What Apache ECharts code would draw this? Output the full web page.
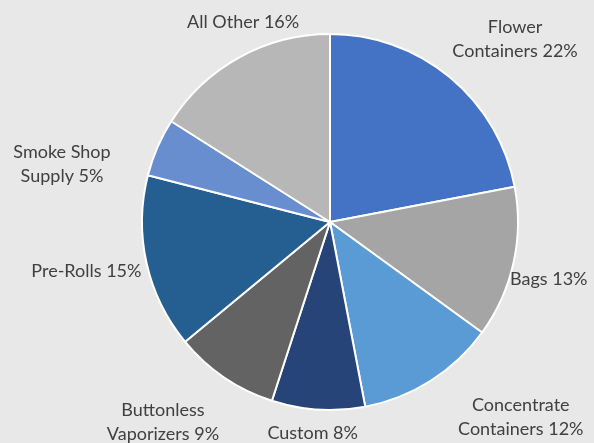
<!DOCTYPE html>
<html><head><meta charset="utf-8">
<script src="https://cdn.jsdelivr.net/npm/echarts@6/dist/echarts.min.js"></script>
<style>html,body{margin:0;padding:0;background:#e8e8e8;}#c{width:594px;height:443px;}</style>
</head><body><div id="c"></div>
<script>
const categories = ['Flower\nContainers', 'Bags', 'Concentrate\nContainers', 'Custom', 'Buttonless\nVaporizers', 'Pre-Rolls', 'Smoke Shop\nSupply', 'All Other'];
const values = [22, 13, 12, 8, 9, 15, 5, 16];
const colors = ['#4472C4', '#A5A5A5', '#5B9BD5', '#264478', '#636363', '#255E91', '#698ED0', '#B7B7B7'];
// per-slice label offsets (style)
const lineLen = [49, 72, 43, 24, 54, 37, -42, 40];
const lineLen2 = [29, -40, 62, -1, 26, 19, 129, -28];

const chart = echarts.init(document.getElementById('c'), null, {renderer: 'canvas'});
chart.setOption({
  backgroundColor: '#e8e8e8',
  animation: false,
  series: [{
    type: 'pie',
    center: [330, 222],
    radius: [0, 188],
    startAngle: 90,
    clockwise: true,
    avoidLabelOverlap: false,
    itemStyle: {borderColor: '#ffffff', borderWidth: 2},
    label: {
      show: true,
      position: 'outside',
      alignTo: 'none',
      fontFamily: 'Lato',
      fontSize: 18,
      lineHeight: 24,
      color: '#404040',
      formatter: p => p.name + ' ' + p.value + '%'
    },
    labelLine: {show: false},
    labelLayout: function () { return {align: 'center'}; },
    data: categories.map((c, i) => ({
      name: c,
      value: values[i],
      itemStyle: {color: colors[i]},
      labelLine: {show: false, length: lineLen[i], length2: lineLen2[i]}
    }))
  }]
});
</script></body></html>
